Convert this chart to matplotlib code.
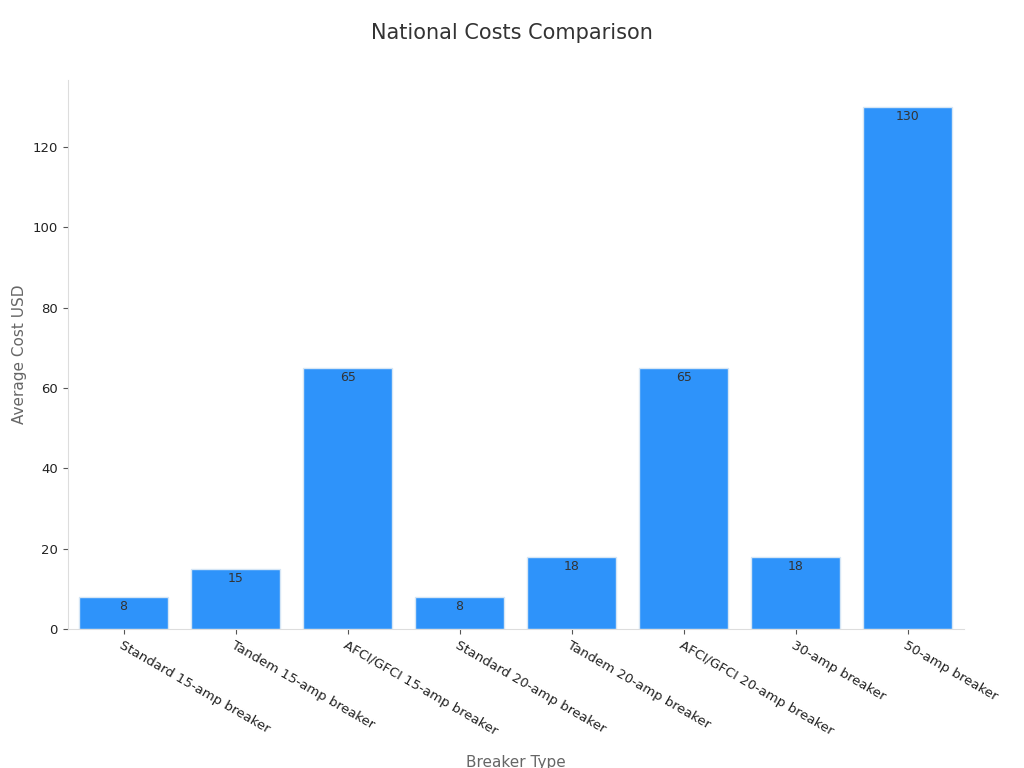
import matplotlib
matplotlib.use("Agg")
import matplotlib.pyplot as plt

# data
breakers = ["Standard 15-amp breaker", "Tandem 15-amp breaker", "AFCI/GFCI 15-amp breaker",
            "Standard 20-amp breaker", "Tandem 20-amp breaker", "AFCI/GFCI 20-amp breaker",
            "30-amp breaker", "50-amp breaker"]
costs = [8, 15, 65, 8, 18, 65, 18, 130]

fig = plt.figure(figsize=(10.24, 7.68), dpi=100)
ax = fig.add_axes([0.066, 0.181, 0.875, 0.715])

x = range(len(breakers))
bars = ax.bar(x, costs, width=0.8, color="#2E93FA", edgecolor="#d6e6f5", linewidth=1)
for b, v in zip(bars, costs):
    ax.text(b.get_x() + b.get_width() / 2, v - 0.8, str(v), ha="center", va="top",
            fontsize=9, color="#333333")

ax.set_xlim(-0.5, len(breakers) - 0.5)
ax.set_ylim(0, 136.7)
ax.set_xticks(list(x))
ax.set_xticklabels(breakers, rotation=-30, ha="left", rotation_mode="anchor", fontsize=9.5, color="#222222")
ax.set_yticks([0, 20, 40, 60, 80, 100, 120])
ax.tick_params(axis="y", labelsize=9.5, colors="#222222")
ax.tick_params(color="#555555")
for s in ["top", "right"]:
    ax.spines[s].set_visible(False)
for s in ["left", "bottom"]:
    ax.spines[s].set_color("#dddddd")

ax.set_xlabel("Breaker Type", fontsize=11, color="#666666", labelpad=12)
ax.set_ylabel("Average Cost USD", fontsize=11, color="#666666")
fig.suptitle("National Costs Comparison", fontsize=15, color="#333333", y=0.97)

fig.savefig("out.png")
